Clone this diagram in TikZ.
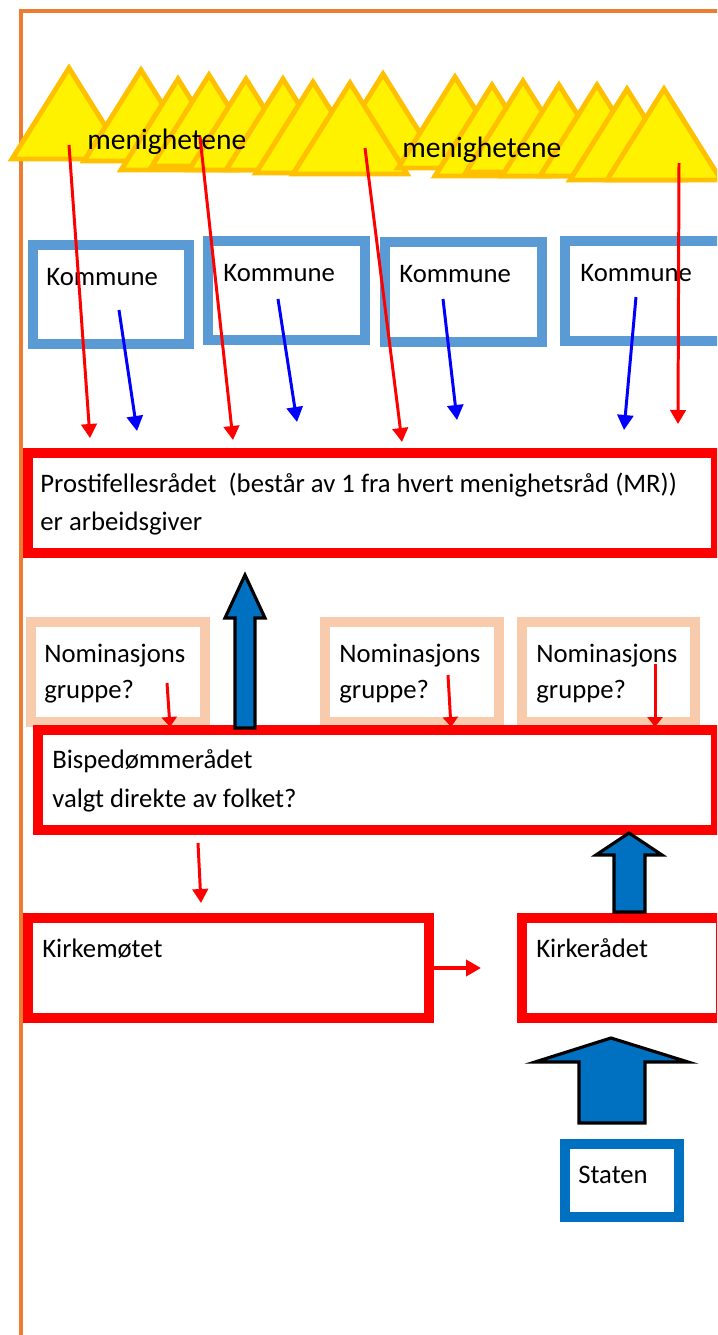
\documentclass[tikz,border=0pt]{standalone}
\usepackage{fontspec}
\setmainfont{Carlito}
\usetikzlibrary{arrows.meta,positioning}

\definecolor{rammeoransje}{HTML}{ED7D31}
\definecolor{gulkant}{HTML}{FFC000}
\definecolor{kommuneblaa}{HTML}{5B9BD5}
\definecolor{fersken}{HTML}{F8CBAD}
\definecolor{statblaa}{HTML}{0070C0}

\tikzset{
  menighet/.style={fill=yellow, draw=gulkant, line width=2.8pt, line join=miter},
  boks/.style={draw, line width=5.7pt, fill=white, inner sep=0pt},
  kommuneboks/.style={boks, draw=kommuneblaa},
  raadboks/.style={boks, draw=red},
  nomboks/.style={boks, draw=fersken},
  statboks/.style={boks, draw=statblaa, line width=5.2pt},
  tekst/.style={anchor=base west, inner sep=0pt, font=\fontsize{15.2}{18}\selectfont},
  rodpil/.style={red, line width=1.7pt, -{Triangle[length=0.28cm, width=0.31cm]}},
  blaapil/.style={blue, line width=1.7pt, -{Triangle[length=0.3cm, width=0.32cm]}},
  blokkpil/.style={fill=statblaa, draw=black, line width=1.8pt, line join=miter},
}

\begin{document}
\begin{tikzpicture}[x=0.02cm, y=-0.02cm]
  \useasboundingbox (0,0) rectangle (717,1335);
  \clip (0,0) rectangle (717,1335);

  % ramme
  \draw[rammeoransje, line width=2.2pt] (21,1400) -- (21,11) -- (800,11);

  % menighetene
  \foreach \x/\y in {69/68, 141/70, 178/79, 209/75, 246/79, 283/79, 313/82,
                     383/74, 350/83, 455/77, 492/85, 523/81, 559/85, 597/85,
                     627/89, 664/89}
    \draw[menighet] (\x,\y) -- ++(-57,91) -- ++(114,0) -- cycle;
  \node[tekst, font=\fontsize{16.8}{19}\selectfont] (men1) at (87,150) {menighetene};
  \node[tekst, font=\fontsize{16.8}{19}\selectfont] (men2) at (402,157) {menighetene};

  % kommuner
  \node[kommuneboks, minimum width=3.12cm, minimum height=1.98cm] (k1) at (111,294.5) {};
  \node[kommuneboks, minimum width=3.14cm, minimum height=1.98cm] (k2) at (286.5,290.5) {};
  \node[kommuneboks, minimum width=3.14cm, minimum height=2cm] (k3) at (463.5,292) {};
  \node[kommuneboks, minimum width=3.9cm, minimum height=2cm] (k4) at (662.5,291) {};
  \node[tekst] (k1t) at (46,285) {Kommune};
  \node[tekst] (k2t) at (223,281) {Kommune};
  \node[tekst] (k3t) at (399,282) {Kommune};
  \node[tekst] (k4t) at (580,281) {Kommune};

  % prostifellesraadet
  \node[raadboks, minimum width=13.76cm, minimum height=2cm] (prosti) at (372,503) {};
  \node[tekst] (prostit) at (40,492) {Prostifellesrådet~ (består av 1 fra hvert menighetsråd (MR))};
  \node[tekst] (prostit2) at (40,530) {er arbeidsgiver};

  % nominasjonsgrupper
  \node[nomboks, minimum width=3.48cm, minimum height=2cm] (n1) at (118,672) {};
  \node[nomboks, minimum width=3.48cm, minimum height=2cm] (n2) at (412,672) {};
  \node[nomboks, minimum width=3.46cm, minimum height=2cm] (n3) at (608.5,672) {};
  \foreach \n/\x in {1/44, 2/339, 3/536} {
    \node[tekst] (n\n a) at (\x,662) {Nominasjons};
    \node[tekst] (n\n b) at (\x,698) {gruppe?};
  }

  % bispedommeraadet
  \node[raadboks, minimum width=13.56cm, minimum height=2cm] (bispe) at (377,780) {};
  \node[tekst] (bispet) at (52,768) {Bispedømmerådet};
  \node[tekst] (bispet2) at (52,807) {valgt direkte av folket?};

  % kirkemotet og kirkeraadet
  \node[raadboks, minimum width=8.02cm, minimum height=2cm] (kirkem) at (228.5,968) {};
  \node[raadboks, minimum width=3.98cm, minimum height=2cm] (kirker) at (621.5,968) {};
  \node[tekst] (kirkemt) at (42,957) {Kirkemøtet};
  \node[tekst] (kirkert) at (536,957) {Kirkerådet};

  % staten
  \node[statboks, minimum width=2.28cm, minimum height=1.46cm] (staten) at (622,1180.5) {};
  \node[tekst] (statent) at (578,1183) {Staten};

  % piler fra menighetene
  \coordinate (m1) at (69,145);  \coordinate (p1) at (90,438);
  \coordinate (m2) at (200,137); \coordinate (p2) at (233,440);
  \coordinate (m3) at (365,148); \coordinate (p3) at (402,442);
  \coordinate (m4) at (679,163); \coordinate (p4) at (678,424);
  \foreach \i in {1,...,4}
    \draw[rodpil] (m\i) -- (p\i);

  % piler fra kommunene
  \coordinate (q1) at (137,431);
  \coordinate (q2) at (297,422);
  \coordinate (q3) at (457,420);
  \coordinate (q4) at (624,430);
  \draw[blaapil] (119,310) -- (q1);
  \draw[blaapil] (278,299) -- (q2);
  \draw[blaapil] (443,299) -- (q3);
  \draw[blaapil] (636,297) -- (q4);

  % nominasjon
  \draw[rodpil, -{Triangle[length=0.2cm, width=0.3cm]}] (167,683) -- (170,727);
  \draw[rodpil, -{Triangle[length=0.2cm, width=0.3cm]}] (448,675) -- (451,727);
  \draw[rodpil, -{Triangle[length=0.2cm, width=0.3cm]}] (655,664) -- (655,727);

  % bispedommeraadet -> kirkemotet -> kirkeraadet
  \coordinate (km) at (201,903);
  \draw[rodpil] (198,843) -- (km);
  \coordinate (kr) at (481,968);
  \draw[rodpil, line width=2.6pt, -{Triangle[length=0.3cm, width=0.32cm]}] (kirkem.east) -- (kr);

  % blokkpiler
  \draw[blokkpil] (235,728) -- (235,618) -- (225,618) -- (245,575) -- (265,618)
    -- (255,618) -- (255,728) -- cycle;
  \draw[blokkpil] (614,912) -- (614,855) -- (596,855) -- (629,833) -- (662,855)
    -- (645,855) -- (645,912) -- cycle;
  \draw[blokkpil] (579,1123) -- (579,1062) -- (535,1062) -- (611,1038) -- (688,1062)
    -- (645,1062) -- (645,1123) -- cycle;
\end{tikzpicture}
\end{document}
